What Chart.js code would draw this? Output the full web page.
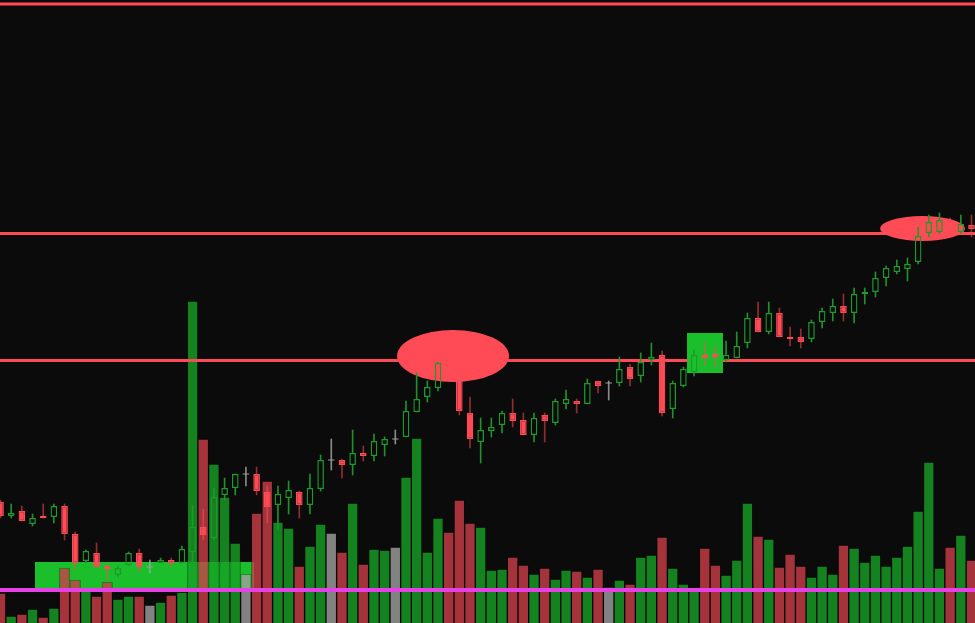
<!DOCTYPE html>
<html>
<head>
<meta charset="utf-8">
<script src="https://cdn.jsdelivr.net/npm/chart.js@4.4.1/dist/chart.umd.min.js"></script>
<style>
  html, body { margin: 0; padding: 0; background: #0b0b0b; overflow: hidden; }
  canvas { display: block; }
</style>
</head>
<body>
<canvas id="grafico" width="975" height="623"></canvas>
<script>
// Datos de las velas (precio)
var opens = [12.1,10.7,11.2,9.9,10.7,10.6,11.7,8.9,6.2,7.0,
  5.7,4.8,5.8,7.0,5.6,6.0,6.3,6.0,7.1,9.6,
  8.5,12.8,13.5,14.9,14.9,13.1,11.8,12.5,13.1,11.8,
  13.4,16.3,16.3,15.8,17.0,16.7,17.8,18.4,18.6,21.1,
  22.6,23.5,26.8,25.3,21.0,18.1,19.2,19.8,21.0,20.3,
  18.8,20.8,20.0,21.9,22.2,21.9,24.2,24.0,24.0,25.6,
  24.7,26.3,26.8,21.4,23.7,25.1,26.8,26.9,26.3,26.5,
  28.0,30.5,29.1,31.0,28.6,28.6,28.4,30.1,31.0,31.7,
  31.0,32.9,33.1,34.5,35.1,35.4,36.1,39.0,39.1,40.1,
  39.1,39.8]
var closes = [10.7,11.0,10.2,10.5,10.5,11.7,8.9,6.0,7.2,5.6,
  5.4,5.5,7.0,5.6,5.6,6.3,6.0,7.4,9.6,8.8,
  12.6,13.5,14.9,14.9,13.2,11.6,12.9,13.3,11.8,13.5,
  16.3,16.3,15.8,17.0,16.7,18.2,18.4,18.4,21.2,22.4,
  23.6,26.0,25.3,21.2,18.4,19.3,19.6,21.0,20.2,18.8,
  20.5,20.2,22.2,22.4,21.9,24.0,23.7,24.0,25.4,24.4,
  26.1,26.6,21.0,24.0,25.4,26.8,26.5,26.6,26.8,27.7,
  30.5,29.1,31.0,28.6,28.4,28.1,30.1,31.2,31.7,31.0,
  32.9,33.1,34.5,35.5,35.7,35.9,38.7,40.1,40.3,39.3,
  39.9,39.4]
var highs = [12.3,11.9,11.7,10.9,11.9,11.9,11.9,9.1,7.3,8.0,
  5.9,5.7,7.1,7.4,6.3,6.5,6.5,7.7,11.7,11.4,
  13.5,14.5,14.9,15.6,15.6,13.7,13.7,14.2,13.2,14.9,
  16.8,18.4,16.4,19.3,17.7,18.9,18.6,19.3,22.2,25.0,
  24.2,26.1,27.8,25.8,22.6,20.5,20.5,21.2,22.4,21.0,
  21.0,21.0,22.4,23.3,22.4,24.4,24.2,24.2,26.6,25.9,
  27.0,28.0,27.2,24.2,25.6,27.3,28.0,27.6,28.2,29.1,
  31.0,32.1,32.1,31.5,29.6,29.4,30.3,31.5,32.4,32.9,
  33.5,33.5,35.1,35.7,36.3,36.5,39.6,40.8,41.0,40.5,
  40.8,40.8]
var lows = [10.5,10.5,10.2,9.7,10.5,10.0,8.3,5.4,6.0,5.6,
  4.4,4.6,5.7,5.1,5.0,6.0,5.6,6.0,6.0,8.3,
  8.3,12.3,12.8,13.7,12.8,10.0,9.3,10.9,10.5,10.9,
  13.2,15.3,14.5,14.8,16.2,16.2,16.7,17.9,18.6,21.1,
  22.1,23.2,24.8,20.8,17.5,16.0,18.6,19.0,19.6,18.8,
  18.1,18.1,19.8,21.4,21.0,21.9,23.0,22.3,23.7,23.7,
  24.1,25.8,20.7,20.5,23.6,24.7,25.8,25.6,26.1,26.5,
  27.5,29.1,28.9,28.6,27.7,27.5,28.1,29.5,30.2,30.2,
  30.0,31.9,32.6,33.7,34.9,34.2,35.9,38.6,39.0,38.9,
  39.0,38.6]
// Volumen (miles)
var volumes = [30,7,9,14,6,15,55,43,32,27,
  41,24,27,27,18,21,28,31,322,184,
  159,126,80,49,110,142,101,95,57,77,
  99,90,71,120,59,74,73,76,146,185,
  71,105,91,123,100,96,53,54,66,58,
  49,55,44,53,52,46,54,36,43,39,
  66,68,86,55,39,35,75,58,48,63,
  120,87,84,56,69,57,46,57,49,78,
  75,61,68,57,66,77,112,161,55,76,
  88,63]

// Niveles horizontales
var levelPrices = [61.9, 38.95, 26.25]
var volumeLevel = 33

// Zonas marcadas: [x inicio, x fin, precio bajo, precio alto]
var boxUnder = [3.23, 23.76, 3.3, 6.1]
var boxOver = [64.34, 67.71, 25.0, 29.0]
// Elipses: [x centro, precio centro, radio x, radio precio]
var ellipseA = [42.41, 26.7, 5.25, 2.6]
var ellipseB = [86.41, 39.45, 3.98, 1.25]

var rojo = '#ff4b55'
var verde = '#1f9a2a'
var gris = '#9a9a9a'
var verdeZona = '#1abf2b'

var idx = opens.map(function (o, i) { return i })
function dir(i) { return closes[i] > opens[i] ? 1 : (closes[i] < opens[i] ? -1 : 0) }

var bodyData = idx.map(function (i) {
  if (dir(i) === 0) return { x: i, y: [opens[i] - 0.05, opens[i] + 0.05] }
  return { x: i, y: [opens[i], closes[i]] }
})
// mechas partidas para que el cuerpo hueco quede vacío
var upperWick = idx.map(function (i) { return { x: i, y: [Math.max(opens[i], closes[i]), highs[i]] } })
var lowerWick = idx.map(function (i) { return { x: i, y: [lows[i], Math.min(opens[i], closes[i])] } })
var volData = idx.map(function (i) { return { x: i, y: volumes[i] } })

var wickColors = idx.map(function (i) {
  return dir(i) > 0 ? 'rgba(31,154,42,0.95)' : (dir(i) < 0 ? 'rgba(255,75,85,0.55)' : 'rgba(160,160,160,0.85)')
})

function box(chart, b) {
  var x = chart.scales.x, y = chart.scales.y, ctx = chart.ctx
  var x0 = x.getPixelForValue(b[0]), x1 = x.getPixelForValue(b[1])
  var y0 = y.getPixelForValue(b[3]), y1 = y.getPixelForValue(b[2])
  ctx.save()
  ctx.fillStyle = verdeZona
  ctx.fillRect(x0, y0, x1 - x0, y1 - y0)
  ctx.restore()
}
function ellipse(chart, e) {
  var x = chart.scales.x, y = chart.scales.y, ctx = chart.ctx
  var cx = x.getPixelForValue(e[0]), cy = y.getPixelForValue(e[1])
  var rx = x.getPixelForValue(e[0] + e[2]) - cx
  var ry = cy - y.getPixelForValue(e[1] + e[3])
  ctx.save()
  ctx.fillStyle = rojo
  ctx.beginPath()
  ctx.ellipse(cx, cy, rx, ry, 0, 0, Math.PI * 2)
  ctx.fill()
  ctx.restore()
}

var zonas = {
  id: 'zonas',
  beforeDatasetsDraw: function (chart) { box(chart, boxUnder) },
  beforeDatasetDraw: function (chart, args) {
    if (chart.data.datasets[args.index].label === 'Mecha baja') {
      box(chart, boxOver)
      ellipse(chart, ellipseA)
      ellipse(chart, ellipseB)
    }
  }
}

var levelSets = levelPrices.map(function (p) {
  return {
    type: 'line', label: 'Nivel ' + p,
    data: [{ x: -2, y: p }, { x: 95, y: p }],
    borderColor: rojo, borderWidth: 3, pointRadius: 0,
    yAxisID: 'y', order: 4
  }
})

var ctx = document.getElementById('grafico').getContext('2d')
var chart = new Chart(ctx, {
  type: 'bar',
  data: {
    datasets: [
      {
        label: 'Velas', data: bodyData, yAxisID: 'y', order: 0, grouped: false,
        barPercentage: 0.62, categoryPercentage: 1, borderSkipped: false,
        borderWidth: idx.map(function (i) { return dir(i) === 0 ? 0 : 1.3 }),
        backgroundColor: idx.map(function (i) { return dir(i) > 0 ? 'rgba(0,0,0,0)' : (dir(i) < 0 ? rojo : gris) }),
        borderColor: idx.map(function (i) { return dir(i) > 0 ? verde : (dir(i) < 0 ? rojo : gris) })
      },
      {
        label: 'Mecha alta', data: upperWick, yAxisID: 'y', order: 1, grouped: false,
        barThickness: 1, borderWidth: 0, backgroundColor: wickColors
      },
      {
        label: 'Mecha baja', data: lowerWick, yAxisID: 'y', order: 2, grouped: false,
        barThickness: 1, borderWidth: 0, backgroundColor: wickColors
      }
    ].concat(levelSets).concat([
      {
        type: 'line', label: 'Nivel volumen',
        data: [{ x: -2, y: volumeLevel }, { x: 95, y: volumeLevel }],
        borderColor: '#e640e6', borderWidth: 4, pointRadius: 0,
        yAxisID: 'y2', order: 3
      },
      {
        label: 'Volumen', data: volData, yAxisID: 'y2', order: 5, grouped: false,
        barPercentage: 1, categoryPercentage: 1, borderWidth: 1,
        borderColor: 'rgba(0,0,0,0.3)',
        backgroundColor: idx.map(function (i) {
          return dir(i) > 0 ? 'rgba(24,160,37,0.8)' : (dir(i) < 0 ? 'rgba(204,61,72,0.8)' : 'rgba(160,160,160,0.8)')
        })
      }
    ])
  },
  options: {
    responsive: false,
    animation: false,
    events: [],
    layout: { padding: 0, autoPadding: false },
    plugins: { legend: { display: false }, tooltip: { enabled: false } },
    scales: {
      x: { type: 'linear', min: -0.05, max: 91.33, offset: false, display: false },
      y: { min: 0, max: 62.3, display: false },
      y2: { min: 0, max: 623, display: false }
    }
  },
  plugins: [zonas]
})
</script>
</body>
</html>
